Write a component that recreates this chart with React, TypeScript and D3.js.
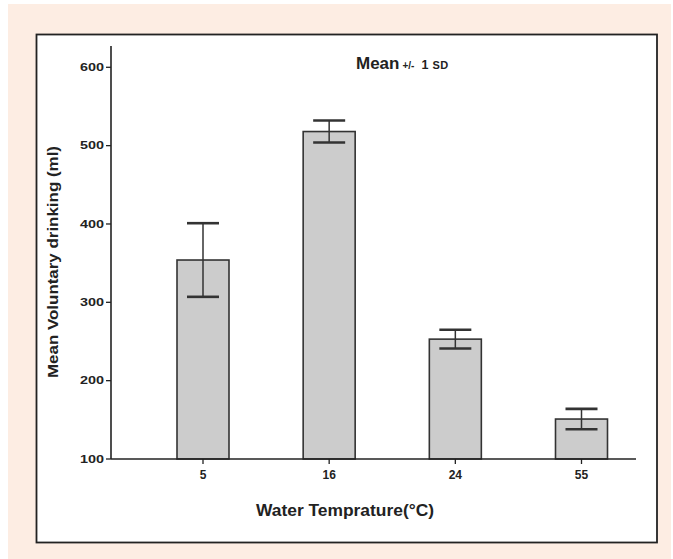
import React from "react";
import * as d3 from "d3";

const categories = ["5", "16", "24", "55"];
const means = [354, 518, 253, 151];
const sds = [47, 14, 12, 13];
const yTicks = [100, 200, 300, 400, 500, 600];

const W = 673;
const H = 559;

export default function App() {
  const y = d3.scaleLinear().domain([100, 600]).range([459, 67.3]);
  const x = d3.scalePoint<string>().domain(categories).range([203, 581.5]);
  const barW = 52;
  const capW = 32;
  const axisX = 111;
  const axisY = y(100);
  const ink = "#222222";
  const font = "'Liberation Sans', Arial, sans-serif";

  return (
    <svg
      width={W}
      height={H}
      style={{ position: "absolute", left: 0, top: 0, display: "block" }}
      fontFamily={font}
    >
      <rect x={0} y={0} width={W} height={H} fill="#ffffff" />
      <rect x={8} y={4} width={663} height={555} fill="#fdede3" />
      <rect x={36.5} y={34.5} width={620.5} height={508} fill="#ffffff" stroke={ink} strokeWidth={1.8} />

      {/* Bars */}
      {categories.map((c, i) => (
        <rect
          key={"b" + c}
          x={(x(c) as number) - barW / 2}
          y={y(means[i])}
          width={barW}
          height={axisY - y(means[i])}
          fill="#cccccc"
          stroke="#333333"
          strokeWidth={1.6}
        />
      ))}

      {/* Error bars */}
      {categories.map((c, i) => {
        const cx = x(c) as number;
        const top = y(means[i] + sds[i]);
        const bot = y(means[i] - sds[i]);
        return (
          <g key={"e" + c} stroke="#333333">
            <line x1={cx} x2={cx} y1={top} y2={bot} strokeWidth={1.5} />
            <line x1={cx - capW / 2} x2={cx + capW / 2} y1={top} y2={top} strokeWidth={2.6} />
            <line x1={cx - capW / 2} x2={cx + capW / 2} y1={bot} y2={bot} strokeWidth={2.6} />
          </g>
        );
      })}

      {/* Y axis */}
      <line x1={axisX} x2={axisX} y1={46} y2={axisY} stroke={ink} strokeWidth={1.6} />
      {yTicks.map((t) => (
        <g key={"yt" + t}>
          <line x1={axisX - 5} x2={axisX} y1={y(t)} y2={y(t)} stroke={ink} strokeWidth={1.3} />
          <text
            x={104}
            y={y(t)}
            dy="0.35em"
            textAnchor="end"
            fontSize={10.5}
            fontWeight="bold"
            fill={ink}
            textLength={24}
            lengthAdjust="spacingAndGlyphs"
          >
            {t}
          </text>
        </g>
      ))}

      {/* X axis */}
      <line x1={axisX} x2={636} y1={axisY} y2={axisY} stroke={ink} strokeWidth={1.6} />
      {categories.map((c) => (
        <g key={"xt" + c}>
          <line x1={x(c) as number} x2={x(c) as number} y1={axisY} y2={axisY + 5} stroke={ink} strokeWidth={1.3} />
          <text
            x={x(c) as number}
            y={479}
            textAnchor="middle"
            fontSize={12}
            fontWeight="bold"
            fill={ink}
          >
            {c}
          </text>
        </g>
      ))}

      {/* Axis titles */}
      <text
        x={345}
        y={516}
        textAnchor="middle"
        fontSize={16}
        fontWeight="bold"
        fill={ink}
        textLength={178}
        lengthAdjust="spacingAndGlyphs"
      >
        Water Temprature(°C)
      </text>
      <text
        transform="translate(58,262) rotate(-90)"
        textAnchor="middle"
        fontSize={14}
        fontWeight="bold"
        fill={ink}
        textLength={232}
        lengthAdjust="spacingAndGlyphs"
      >
        Mean Voluntary drinking (ml)
      </text>

      {/* Chart title */}
      <text x={356} y={69} fontWeight="bold" fill={ink}>
        <tspan fontSize={17}>Mean</tspan>
        <tspan fontSize={10} dx={3}>+/-</tspan>
        <tspan fontSize={12.5} dx={7}>1</tspan>
        <tspan fontSize={11} dx={4} letterSpacing={0.5}>SD</tspan>
      </text>
    </svg>
  );
}
